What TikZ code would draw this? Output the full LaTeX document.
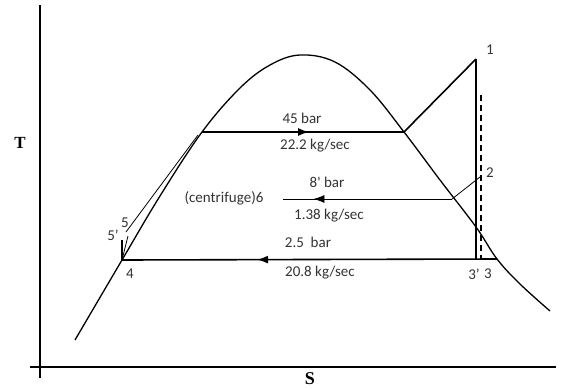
\documentclass[tikz,border=0pt]{standalone}
\usepackage{fontspec}
\setmainfont{Carlito}
\newfontfamily\axfont{Liberation Serif}
\usetikzlibrary{decorations.markings,arrows.meta}
\begin{document}
\begin{tikzpicture}[x=1pt,y=-1pt,
  lbl/.style={inner sep=0pt,font=\fontsize{15}{17}\selectfont,text=black!80},
  axis/.style={line width=1.8pt},
  proc/.style={line width=1.6pt},
  thin/.style={line width=0.8pt},
  arrmid/.style={postaction={decorate},decoration={markings,mark=at position #1 with {\arrow{Latex[length=11pt,width=8pt]}}}}]
\useasboundingbox (0,0) rectangle (562,389);
% axes
\coordinate (ytop) at (40,5);
\coordinate (ybot) at (40,378);
\coordinate (xl) at (30,367);
\coordinate (xr) at (556,367);
\draw[axis] (ytop) -- (ybot);
\draw[axis] (xl) -- (xr);
\node[font=\axfont\bfseries\fontsize{17}{19}\selectfont,inner sep=0pt] (T) at (20,143) {T};
\node[font=\axfont\bfseries\fontsize{18}{20}\selectfont,inner sep=0pt] (S) at (310,379) {S};
% key points
\coordinate (p4) at (122,260);
\coordinate (pa) at (202,132);
\coordinate (pb) at (404,132);
\coordinate (p1) at (476,59);
\coordinate (p3p) at (476,259);
\coordinate (p3) at (497,259);
\coordinate (p2) at (480,177);
\coordinate (p6r) at (452,199);
\coordinate (p6l) at (283,199);
\coordinate (p5) at (126,232);
\coordinate (p5t) at (198,135);
\coordinate (p5p) at (122,240);
\coordinate (d1) at (481,95);
\coordinate (d3) at (481,259);
% dome
\draw[line width=1.3pt] plot[smooth,tension=0.6] coordinates {(75,340) (122,260) (160,196) (202,132) (240,88) (270,65) (300,55) (335,62) (370,90) (404,132) (440,180) (476,227) (497,259) (520,284) (550,311)};
% processes
\draw[proc,arrmid=0.53] (pa) -- (pb);
\draw[proc] (pb) -- (p1);
\draw[proc] (p1) -- (p3p);
\draw[line width=1.3pt,dash pattern=on 6pt off 4pt] (d1) -- (d3);
\draw[proc,arrmid=0.64] (p3) -- (p4);
\draw[thin] (p2) -- (p6r);
\draw[thin,arrmid=0.82] (p6r) -- (p6l);
\draw[thin] (p5) -- (p5t);
\draw[proc] (p5p) -- (p4);
\draw[thin] (p4) -- (128,236);
% labels
\node[lbl] (l45) at (302,118) {45 bar};
\node[lbl] (l222) at (315,146) {22.2 kg/sec};
\node[lbl] (l8) at (327,182) {8\textquotesingle\ bar};
\node[lbl] (lc) at (224,198) {(centrifuge)6};
\node[lbl] (l138) at (329,216) {1.38 kg/sec};
\node[lbl] (l25) at (308,242) {2.5\ \ bar};
\node[lbl] (l208) at (320,273) {20.8 kg/sec};
\node[lbl] (n1) at (490,50) {1};
\node[lbl] (n2) at (490,173) {2};
\node[lbl] (n3p) at (474,274) {3'};
\node[lbl] (n3) at (488,274) {3};
\node[lbl] (n4) at (130,274) {4};
\node[lbl] (n5) at (125,223) {5};
\node[lbl] (n5p) at (113,235) {5'};
\end{tikzpicture}
\end{document}
